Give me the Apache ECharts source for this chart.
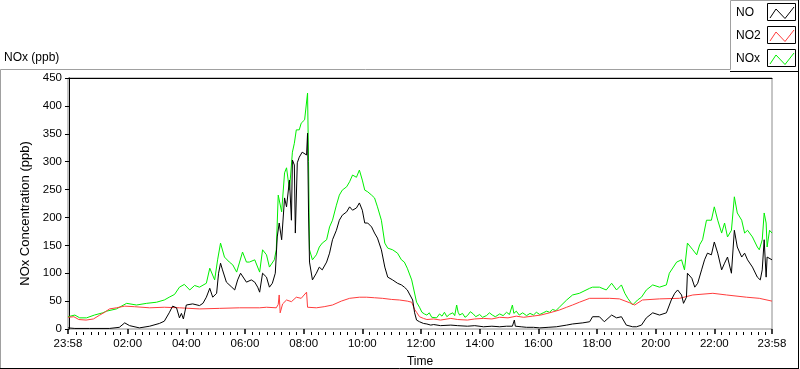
<!DOCTYPE html>
<html>
<head>
<meta charset="utf-8">
<script src="https://cdn.jsdelivr.net/npm/echarts@6/dist/echarts.min.js"></script>
<style>
  html, body { margin: 0; padding: 0; background: #fff; }
  #chart { width: 800px; height: 369px; }
</style>
</head>
<body>
<div id="chart"></div>
<script>
// time axis in minutes since midnight; -2 = 23:58 (day before), 1438 = 23:58
const timeMin = -2;
const timeMax = 1438;
const majorTicks = [-2, 120, 240, 360, 480, 600, 720, 840, 960, 1080, 1200, 1320, 1438];
const yTicks = [0, 50, 100, 150, 200, 250, 300, 350, 400, 450];

const seriesNames = ['NO', 'NO2', 'NOx'];
const seriesColors = ['#000000', '#ff3c3c', '#00f000'];

const noData = [
  [-2,2],[12,1],[42,1],[83,1],[103,3],[114,11],[124,6],[144,2],[165,5],[185,10],[195,14],[205,29],[212,41],[220,38],
  [226,20],[230,28],[234,18],[240,43],[253,45],[267,42],[274,46],[281,57],[288,73],[294,57],[302,64],[306,100],[310,118],
  [314,106],[322,84],[333,75],[339,70],[345,88],[351,100],[363,84],[373,88],[380,84],[386,75],[390,66],[396,100],[404,93],
  [410,75],[416,82],[422,100],[426,165],[430,190],[435,160],[441,235],[445,219],[451,267],[455,195],[457,303],[461,294],
  [463,172],[467,298],[471,308],[477,317],[486,312],[488,351],[490,208],[492,120],[498,88],[506,100],[512,111],[518,106],
  [527,120],[533,136],[539,160],[547,177],[553,195],[559,204],[568,210],[574,219],[580,213],[588,217],[594,226],[600,213],
  [605,190],[611,190],[619,183],[625,172],[631,163],[639,142],[646,111],[652,93],[662,88],[672,82],[680,79],[686,75],
  [692,70],[703,52],[707,29],[711,16],[717,13],[725,10],[732,9],[740,7],[746,8],[760,6],[781,7],[795,6],[815,5],[830,6],
  [848,4],[865,5],[881,4],[895,5],[907,5],[911,16],[913,5],[925,4],[936,3],[950,3],[963,2],[980,3],[997,4],
  [1018,7],[1030,9],[1051,11],[1065,13],[1071,22],[1085,22],[1095,13],[1110,25],[1120,20],
  [1130,22],[1140,7],[1153,4],[1161,4],[1171,7],[1181,20],[1194,29],[1208,25],[1222,29],[1232,52],[1239,64],[1245,70],
  [1253,61],[1257,46],[1263,57],[1265,100],[1274,91],[1280,75],[1286,82],[1294,106],[1300,124],[1306,136],[1314,133],
  [1320,156],[1327,136],[1335,106],[1341,118],[1347,129],[1355,100],[1361,177],[1367,147],[1376,129],[1382,136],
  [1388,124],[1398,111],[1408,93],[1414,88],[1418,106],[1422,160],[1426,93],[1428,129],[1438,124]
];

const no2Data = [
  [-2,21],[10,22],[20,17],[35,16],[50,18],[63,25],[73,30],[83,36],[97,38],[114,41],[134,40],[165,38],[195,39],[226,38],
  [267,36],[308,37],[349,38],[390,38],[404,39],[424,38],[428,44],[430,61],[432,29],[437,45],[445,52],[455,49],[465,57],
  [475,55],[486,66],[488,39],[506,38],[522,40],[539,43],[557,50],[574,55],[594,57],[609,57],[625,56],[641,55],[660,53],
  [676,52],[692,50],[701,48],[707,35],[711,30],[717,22],[725,19],[732,17],[746,18],[760,16],[781,19],[795,17],[815,16],
  [830,18],[848,19],[865,18],[881,21],[898,20],[915,23],[930,21],[948,23],[965,25],[983,29],[1003,34],[1018,39],
  [1030,43],[1044,48],[1065,55],[1106,55],[1126,54],[1147,47],[1157,43],[1173,52],
  [1208,54],[1249,55],[1276,61],[1317,64],[1345,61],[1386,57],[1412,55],[1438,50]
];

const noxData = [
  [-2,22],[12,25],[22,20],[36,20],[52,25],[69,29],[77,32],[97,36],[118,46],[138,43],[159,46],[179,48],[195,52],[205,57],
  [216,62],[226,75],[236,80],[247,70],[257,78],[267,75],[281,82],[288,109],[298,88],[304,124],[310,154],[312,156],
  [318,129],[328,120],[335,115],[343,102],[349,120],[355,138],[363,120],[369,120],[380,124],[390,102],[396,142],[404,133],
  [410,111],[420,124],[424,142],[428,240],[435,210],[441,280],[445,289],[451,249],[457,317],[461,333],[465,357],[471,357],
  [475,369],[482,375],[486,378],[488,423],[490,300],[492,142],[498,124],[506,133],[512,147],[518,154],[527,160],[533,183],
  [539,195],[547,222],[553,240],[559,249],[568,255],[574,264],[580,276],[588,272],[594,285],[600,267],[605,249],[611,246],
  [619,240],[625,235],[631,219],[639,195],[646,154],[652,145],[662,142],[672,136],[680,124],[686,120],[692,109],[701,88],
  [711,48],[717,39],[722,30],[727,27],[732,25],[737,29],[742,21],[746,24],[752,20],[758,27],[763,23],[768,30],[773,22],
  [778,26],[785,29],[789,24],[793,43],[796,30],[799,25],[805,28],[810,21],[815,24],[821,31],[827,27],[832,22],[840,26],
  [846,21],[854,24],[860,29],[866,25],[872,22],[881,27],[888,24],[895,30],[901,26],[907,43],[910,28],[915,32],[921,25],
  [928,29],[936,24],[943,28],[950,25],[956,30],[963,26],[970,29],[977,32],[983,30],[989,35],[996,33],[1003,39],
  [1018,52],[1030,61],[1044,64],[1065,73],[1071,75],[1085,75],[1099,70],[1110,82],[1120,70],[1130,79],[1137,64],
  [1143,55],[1153,43],[1163,52],[1171,57],[1181,70],[1194,79],[1208,75],[1222,79],[1228,100],[1243,120],[1253,124],
  [1259,106],[1265,154],[1276,142],[1284,133],[1290,151],[1296,160],[1304,195],[1314,195],[1320,219],[1327,195],
  [1335,172],[1341,190],[1347,165],[1355,177],[1361,237],[1367,208],[1376,195],[1382,172],[1388,177],[1398,165],
  [1408,147],[1412,142],[1418,160],[1422,208],[1426,190],[1428,147],[1433,177],[1438,172]
];

const FONT = 'Liberation Sans';

// minor ticks every 15 minutes
const minorTicks = [];
for (let m = 15; m < timeMax; m += 15) {
  if (m % 120 !== 0) minorTicks.push(m);
}

function fmtTime(v) {
  if (v < 0 || v >= 1438) return '23:58';
  const h = Math.floor(v / 60), m = v % 60;
  return String(h).padStart(2, '0') + ':' + String(m).padStart(2, '0');
}

// legend drawn by hand, LabVIEW style
function legendGraphics() {
  const items = [];
  seriesNames.forEach((name, i) => {
    const y0 = 4 + i * 23;
    items.push({
      type: 'text', left: 736, top: y0 + 3,
      style: { text: name, font: '12px ' + FONT, fill: '#000' }
    });
    items.push({
      type: 'rect', shape: { x: 767.5, y: y0 - 0.5, width: 28, height: 17 },
      style: { fill: '#fff', stroke: '#000', lineWidth: 1 }
    });
    items.push({
      type: 'polyline',
      shape: { points: [[770, y0 + 14], [776, y0 + 5], [785, y0 + 14.5], [794, y0 + 3]] },
      style: { stroke: seriesColors[i], lineWidth: 1, fill: null }
    });
  });
  return items;
}

const chart = echarts.init(document.getElementById('chart'), null, { renderer: 'canvas' });

const option = {
  animation: false,
  backgroundColor: '#fff',
  textStyle: { fontFamily: FONT },
  grid: {
    left: 68, top: 78, width: 704, height: 251,
    outerBoundsMode: 'none', containLabel: false,
    show: true, borderColor: '#8c8c8c', borderWidth: 1, backgroundColor: '#fff'
  },
  xAxis: [
    {
      type: 'value', min: timeMin, max: timeMax, position: 'bottom', offset: 3,
      name: 'Time', nameLocation: 'middle', nameGap: 24,
      nameTextStyle: { color: '#000', fontSize: 12, fontFamily: FONT },
      axisLine: { show: false },
      axisTick: { show: true, length: 5, customValues: majorTicks, lineStyle: { color: '#000', width: 1.5 } },
      axisLabel: { show: true, customValues: majorTicks, formatter: fmtTime, margin: 6,
        color: '#000', fontSize: 11.5, fontFamily: FONT },
      splitLine: { show: false }
    },
    {
      type: 'value', min: timeMin, max: timeMax, position: 'bottom', offset: 3,
      axisLine: { show: false },
      axisTick: { show: true, length: 3, customValues: minorTicks, lineStyle: { color: '#000', width: 1 } },
      axisLabel: { show: false },
      splitLine: { show: false }
    },
    {
      type: 'value', min: timeMin, max: timeMax, position: 'top',
      axisLine: { show: true, lineStyle: { color: '#000', width: 1 } },
      axisTick: { show: false }, axisLabel: { show: false }, splitLine: { show: false }
    }
  ],
  yAxis: {
    type: 'value', min: 0, max: 450, interval: 50,
    name: 'NOx Concentration (ppb)', nameLocation: 'middle', nameRotate: 90, nameGap: 28,
    nameTextStyle: { color: '#000', fontSize: 13, fontFamily: FONT, padding: [0, 20, 0, 0] },
    axisLine: { show: true, lineStyle: { color: '#000', width: 1 } },
    axisTick: { show: true, length: 4, lineStyle: { color: '#000' } },
    axisLabel: { margin: 6, color: '#000', fontSize: 11.5, fontFamily: FONT },
    splitLine: { show: false }
  },
  series: [
    { name: 'NOx', type: 'line', data: noxData, showSymbol: false, symbol: 'none',
      lineStyle: { color: seriesColors[2], width: 1 }, z: 2 },
    { name: 'NO2', type: 'line', data: no2Data, showSymbol: false, symbol: 'none',
      lineStyle: { color: seriesColors[1], width: 1 }, z: 3 },
    { name: 'NO', type: 'line', data: noData, showSymbol: false, symbol: 'none',
      lineStyle: { color: seriesColors[0], width: 1 }, z: 4 }
  ],
  graphic: [
    // chart label
    { type: 'text', left: 4, top: 52, style: { text: 'NOx (ppb)', font: '12px ' + FONT, fill: '#000' } },
    // outer frame (3d look: grey top/left, black bottom/right)
    { type: 'polyline', shape: { points: [[0.5, 368], [0.5, 69.5], [730.5, 69.5]] }, style: { stroke: '#a0a0a0', fill: null } },
    { type: 'polyline', shape: { points: [[730.5, 69.5], [730.5, 0.5], [798.5, 0.5]] }, style: { stroke: '#a0a0a0', fill: null } },
    { type: 'line', shape: { x1: 730, y1: 71.5, x2: 799, y2: 71.5 }, style: { stroke: '#000' } },
    { type: 'line', shape: { x1: 798.5, y1: 0, x2: 798.5, y2: 369 }, style: { stroke: '#000' } },
    { type: 'line', shape: { x1: 0, y1: 368.5, x2: 799, y2: 368.5 }, style: { stroke: '#000' } },
    ...legendGraphics()
  ]
};

chart.setOption(option);
</script>
</body>
</html>
